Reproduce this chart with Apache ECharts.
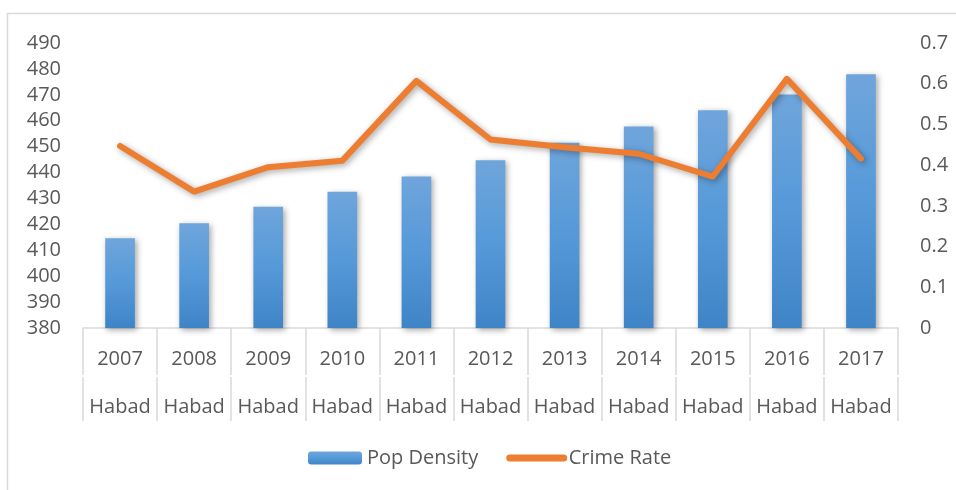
<!DOCTYPE html>
<html>
<head>
<meta charset="utf-8">
<script src="https://cdn.jsdelivr.net/npm/echarts@6/dist/echarts.min.js"></script>
<style>
  html, body { margin: 0; padding: 0; background: #ffffff; }
  #chart { width: 956px; height: 490px; }
</style>
</head>
<body>
<div id="chart"></div>
<script>
// Yearly population density (left axis) and crime rate (right axis) for Habad
const years = ['2007', '2008', '2009', '2010', '2011', '2012', '2013', '2014', '2015', '2016', '2017'];
const regions = ['Habad', 'Habad', 'Habad', 'Habad', 'Habad', 'Habad', 'Habad', 'Habad', 'Habad', 'Habad', 'Habad'];
const popDensity = [414.6, 420.4, 426.8, 432.6, 438.5, 444.7, 451.5, 457.8, 464.0, 470.1, 477.9];
const crimeRate = [0.447, 0.335, 0.395, 0.411, 0.607, 0.463, 0.444, 0.428, 0.372, 0.612, 0.416];
const seriesNames = ['Pop Density', 'Crime Rate'];

const FONT = '"Open Sans", "Liberation Sans", sans-serif';
const TEXT = '#595959';
const RULE = '#d9d9d9';

const chart = echarts.init(document.getElementById('chart'), null, { renderer: 'canvas' });

chart.setOption({
  animation: false,
  backgroundColor: '#ffffff',
  textStyle: { fontFamily: FONT, color: TEXT },
  graphic: [{
    type: 'rect',
    shape: { x: 7.5, y: 13.5, width: 1000, height: 1000 },
    style: { fill: 'none', stroke: RULE, lineWidth: 1.5 },
    silent: true
  }],
  grid: { left: 83, right: 58, top: 43, bottom: 162, containLabel: false },
  legend: {
    left: 308,
    top: 448,
    padding: 0,
    itemWidth: 54,
    itemHeight: 13,
    itemGap: 28,
    textStyle: { fontFamily: FONT, fontSize: 20, color: TEXT },
    data: [
      { name: seriesNames[0] },
      { name: seriesNames[1], itemStyle: { opacity: 0 }, lineStyle: { width: 7, cap: 'round' } }
    ]
  },
  xAxis: [
    {
      type: 'category',
      data: years,
      position: 'bottom',
      boundaryGap: true,
      axisLine: { show: true, lineStyle: { color: RULE, width: 1.5 } },
      axisTick: { show: true, interval: 0, length: 47, lineStyle: { color: RULE, width: 1.5 } },
      axisLabel: { interval: 0, margin: 21, fontSize: 20, color: TEXT, fontFamily: FONT }
    },
    {
      type: 'category',
      data: regions,
      position: 'bottom',
      offset: 49,
      boundaryGap: true,
      axisLine: { show: false },
      axisTick: { show: true, interval: 0, length: 44, lineStyle: { color: RULE, width: 1.5 } },
      axisLabel: { interval: 0, margin: 20, fontSize: 20, color: TEXT, fontFamily: FONT }
    }
  ],
  yAxis: [
    {
      type: 'value',
      min: 380,
      max: 490,
      interval: 10,
      position: 'left',
      axisLine: { show: false },
      axisTick: { show: false },
      splitLine: { show: false },
      axisLabel: { margin: 22, fontSize: 20, color: TEXT, fontFamily: FONT }
    },
    {
      type: 'value',
      min: 0,
      max: 0.7,
      interval: 0.1,
      position: 'right',
      axisLine: { show: false },
      axisTick: { show: false },
      splitLine: { show: false },
      axisLabel: {
        margin: 22, fontSize: 20, color: TEXT, fontFamily: FONT,
        formatter: v => String(Math.round(v * 10) / 10)
      }
    }
  ],
  series: [
    {
      name: seriesNames[0],
      type: 'bar',
      xAxisIndex: 0,
      yAxisIndex: 0,
      data: popDensity,
      barWidth: '40%',
      itemStyle: {
        color: new echarts.graphic.LinearGradient(0, 0, 0, 1, [
          { offset: 0, color: '#6fa5db' },
          { offset: 0.5, color: '#5599d9' },
          { offset: 1, color: '#3f84c6' }
        ]),
        shadowColor: 'rgba(0,0,0,0.35)',
        shadowBlur: 6,
        shadowOffsetX: 2,
        shadowOffsetY: 2
      }
    },
    {
      name: seriesNames[1],
      type: 'line',
      xAxisIndex: 0,
      yAxisIndex: 1,
      data: crimeRate,
      symbol: 'none',
      lineStyle: {
        color: '#ed7d31',
        width: 6,
        cap: 'round',
        join: 'round',
        shadowColor: 'rgba(0,0,0,0.35)',
        shadowBlur: 6,
        shadowOffsetX: 2,
        shadowOffsetY: 2
      },
      itemStyle: { color: '#ed7d31' },
      z: 3
    }
  ]
});
</script>
</body>
</html>
